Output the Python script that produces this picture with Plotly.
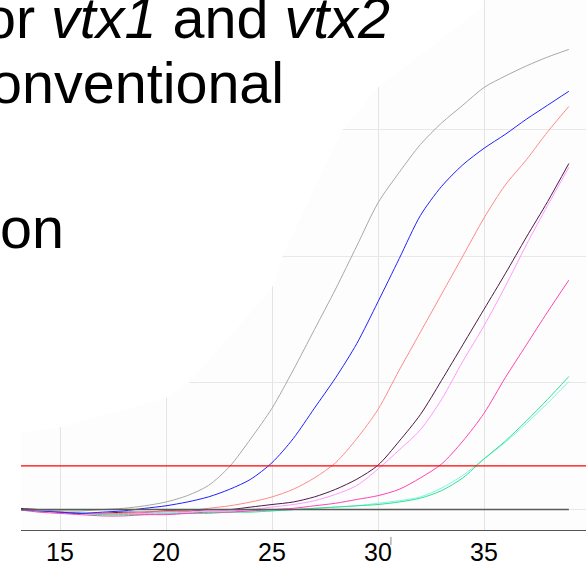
import plotly.graph_objects as go

# ---- data ----
cycles = list(range(13, 40))

gray_vals = [0.0, -0.005, -0.01, -0.01, 0.0, 0.01, 0.03, 0.06, 0.11, 0.19, 0.34, 0.56, 0.80, 1.10,
             1.42, 1.74, 2.08, 2.42, 2.66, 2.88, 3.05, 3.19, 3.33, 3.42, 3.50, 3.57, 3.63]
blue_vals = [0.0, -0.01, -0.02, -0.03, -0.02, -0.01, 0.01, 0.03, 0.06, 0.10, 0.16, 0.24, 0.37, 0.56,
             0.80, 1.04, 1.31, 1.64, 1.98, 2.32, 2.55, 2.72, 2.85, 2.96, 3.08, 3.19, 3.30]
salmon_vals = [0.0, -0.01, -0.02, -0.03, -0.03, -0.03, -0.02, -0.015, -0.01, 0.01, 0.03, 0.06, 0.10, 0.16,
               0.25, 0.37, 0.56, 0.79, 1.10, 1.40, 1.70, 2.00, 2.30, 2.56, 2.76, 2.98, 3.18]
purple_vals = [0.01, 0.0, -0.02, -0.03, -0.03, -0.02, -0.02, -0.01, -0.01, 0.0, 0.0, 0.02, 0.04, 0.06,
               0.10, 0.16, 0.24, 0.35, 0.54, 0.75, 1.02, 1.30, 1.58, 1.86, 2.15, 2.43, 2.73]
violet_vals = [0.0, -0.01, -0.02, -0.03, -0.03, -0.03, -0.03, -0.02, -0.02, -0.01, -0.01, 0.0, 0.02, 0.04,
               0.07, 0.12, 0.19, 0.32, 0.47, 0.63, 0.87, 1.17, 1.45, 1.76, 2.09, 2.40, 2.70]
magenta_vals = [0.0, -0.02, -0.03, -0.04, -0.05, -0.05, -0.04, -0.04, -0.03, -0.02, -0.02, -0.01, 0.0, 0.01,
                0.03, 0.05, 0.08, 0.11, 0.16, 0.25, 0.36, 0.54, 0.76, 1.04, 1.30, 1.56, 1.81]
green_vals = [0.0, -0.01, -0.02, -0.03, -0.04, -0.04, -0.04, -0.035, -0.03, -0.03, -0.02, -0.02, -0.01, 0.0,
              0.01, 0.02, 0.03, 0.04, 0.06, 0.09, 0.15, 0.25, 0.40, 0.54, 0.70, 0.87, 1.05]
cyan_vals = [0.0, -0.01, -0.02, -0.02, -0.03, -0.03, -0.03, -0.03, -0.02, -0.02, -0.02, -0.01, -0.01, 0.0,
             0.01, 0.02, 0.03, 0.05, 0.07, 0.10, 0.17, 0.27, 0.40, 0.53, 0.68, 0.84, 1.01]
ntc_vals = [0.0] * len(cycles)

threshold = 0.345
x_ticks = [15, 20, 25, 30, 35]
y_grid = [0, 1, 2, 3]

series = [
    ("cyan", cyan_vals, "#7ff3ee"),
    ("green", green_vals, "#2fe38a"),
    ("magenta", magenta_vals, "#ff44b4"),
    ("violet", violet_vals, "#ff99ff"),
    ("purple", purple_vals, "#4b1a45"),
    ("salmon", salmon_vals, "#ff8a8a"),
    ("blue", blue_vals, "#2020ff"),
    ("gray", gray_vals, "#a8a8a8"),
]

W, H = 586, 566
ML, MB = 21, 33
PW, PH = W - ML, H - MB


def pxx(px):
    return (px - ML) / PW


def pxy(py):
    return (PH - py) / PH


fig = go.Figure()
for name, vals, col in series:
    fig.add_trace(go.Scatter(x=cycles, y=vals, mode="lines", name=name,
                             line=dict(color=col, width=1, shape="spline", smoothing=0.8)))
fig.add_trace(go.Scatter(x=cycles, y=ntc_vals, mode="lines", name="NTC",
                         line=dict(color="#5a5a5a", width=1.5)))

fig.add_hline(y=threshold, line=dict(color="#ff0000", width=1.2))

# white fade region of the slide overlapping the chart (hides gridlines only)
fig.add_shape(type="path", layer="between", xref="x", yref="y",
              path="M 13.0,0.60 L 15,0.65 L 20,0.88 L 21.04,0.99 L 25,1.75 L 25.5,2.0 "
                   "L 28.3,2.99 L 30,3.33 L 35,3.97 L 35,4.3 L 13.0,4.3 Z",
              fillcolor="#ffffff", line=dict(width=0))

# small stray mark after the 30 label
fig.add_shape(type="line", xref="x", yref="paper", x0=30.61, x1=30.61,
              y0=pxy(540), y1=pxy(548), line=dict(color="#888888", width=1))

txt_font = dict(family="Liberation Sans, Arial, sans-serif", size=57.5, color="#000000")
fig.add_annotation(text="or <i>vtx1</i> and <i>vtx2</i>", xref="paper", yref="paper",
                   x=pxx(-18), y=pxy(18.6), xanchor="left", yanchor="middle",
                   showarrow=False, font=txt_font)
fig.add_annotation(text="onventional", xref="paper", yref="paper",
                   x=pxx(-12), y=pxy(83.0), xanchor="left", yanchor="middle",
                   showarrow=False, font=txt_font)
fig.add_annotation(text="on", xref="paper", yref="paper",
                   x=pxx(-2), y=pxy(229.0), xanchor="left", yanchor="middle",
                   showarrow=False, font=txt_font)

fig.update_layout(
    width=W, height=H,
    margin=dict(l=ML, r=0, t=0, b=MB),
    paper_bgcolor="#ffffff", plot_bgcolor="#fdfdfd",
    showlegend=False,
    font=dict(family="Liberation Sans, Arial, sans-serif", color="#000000"),
)
fig.update_xaxes(range=[13.16, 39.81], tickvals=x_ticks, ticktext=[str(t) for t in x_ticks],
                 showgrid=True, gridcolor="#e4e4e4", gridwidth=1,
                 showline=True, linecolor="#555555", linewidth=1.2,
                 ticks="", tickfont=dict(size=25, color="#000000"), zeroline=False)
fig.update_yaxes(range=[-0.161, 4.02], tickvals=y_grid, showticklabels=False,
                 showgrid=True, gridcolor="#e8e8e8", gridwidth=1,
                 showline=False, ticks="", zeroline=False)

fig.write_html("out.html", config={"displayModeBar": False},
               post_script="document.body.style.margin='0px';document.body.style.overflow='hidden';")
